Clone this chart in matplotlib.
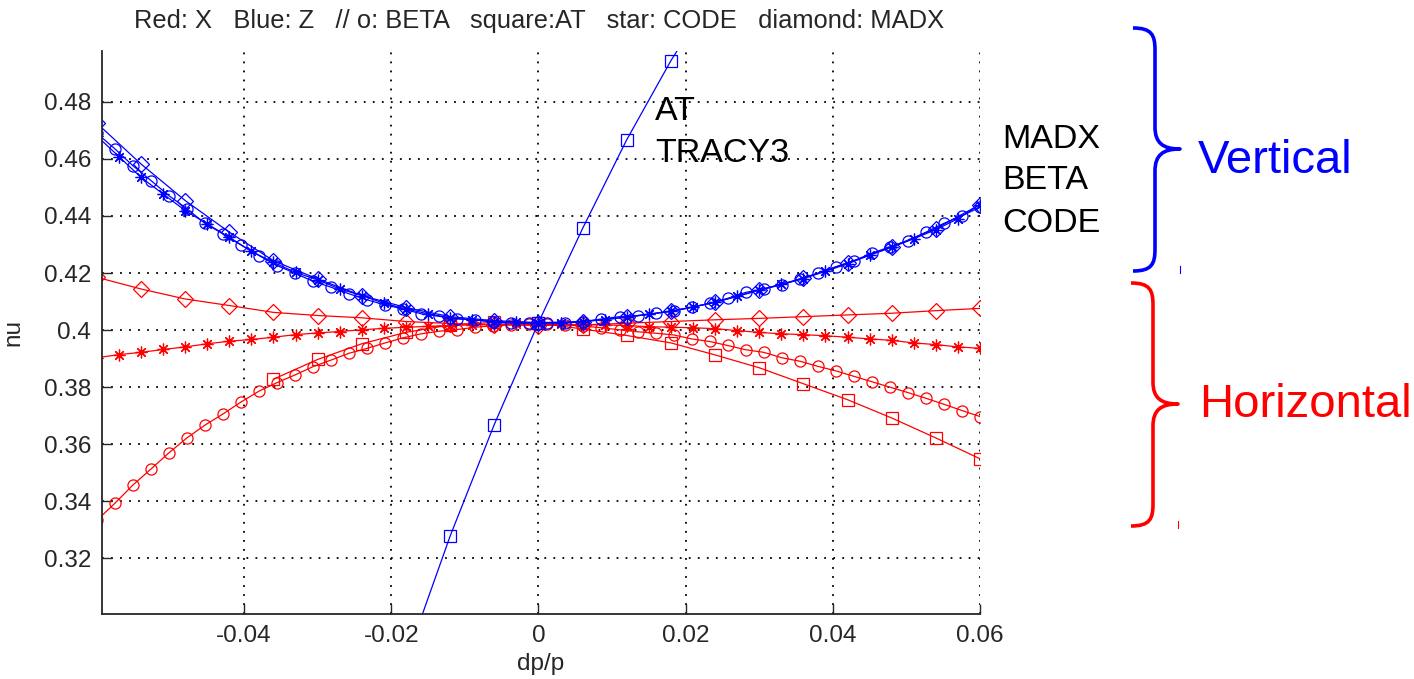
import numpy as np
import matplotlib
matplotlib.use("Agg")
import matplotlib.pyplot as plt
from matplotlib.path import Path
from matplotlib.patches import PathPatch
from matplotlib.transforms import Affine2D
from matplotlib.lines import Line2D

plt.rcParams['font.family'] = ['Liberation Sans', 'DejaVu Sans']

# ---------------- data ----------------
# BETA (circles): 50 points from -0.06 to 0.06
dp_beta = [-0.06000, -0.05755, -0.05510, -0.05265, -0.05020, -0.04776, -0.04531, -0.04286,
           -0.04041, -0.03796, -0.03551, -0.03306, -0.03061, -0.02816, -0.02571, -0.02327,
           -0.02082, -0.01837, -0.01592, -0.01347, -0.01102, -0.00857, -0.00612, -0.00367,
           -0.00122, 0.00122, 0.00367, 0.00612, 0.00857, 0.01102, 0.01347, 0.01592,
           0.01837, 0.02082, 0.02327, 0.02571, 0.02816, 0.03061, 0.03306, 0.03551,
           0.03796, 0.04041, 0.04286, 0.04531, 0.04776, 0.05020, 0.05265, 0.05510,
           0.05755, 0.06000]
beta_x = [0.3333, 0.3393, 0.3457, 0.3513, 0.3570, 0.3622, 0.3667, 0.3706, 0.3748, 0.3786,
          0.3816, 0.3843, 0.3872, 0.3895, 0.3919, 0.3936, 0.3955, 0.3973, 0.3987, 0.3996,
          0.4002, 0.4010, 0.4015, 0.4019, 0.4021, 0.4021, 0.4018, 0.4014, 0.4008, 0.4001,
          0.3994, 0.3989, 0.3983, 0.3969, 0.3960, 0.3946, 0.3931, 0.3922, 0.3903, 0.3891,
          0.3873, 0.3857, 0.3838, 0.3819, 0.3800, 0.3781, 0.3761, 0.3740, 0.3718, 0.3697]
beta_z = [0.4690, 0.4635, 0.4576, 0.4524, 0.4471, 0.4425, 0.4374, 0.4337, 0.4298, 0.4261,
          0.4226, 0.4199, 0.4171, 0.4150, 0.4127, 0.4106, 0.4088, 0.4074, 0.4057, 0.4048,
          0.4039, 0.4036, 0.4027, 0.4024, 0.4024, 0.4024, 0.4024, 0.4030, 0.4039, 0.4047,
          0.4051, 0.4059, 0.4068, 0.4080, 0.4094, 0.4111, 0.4132, 0.4144, 0.4159, 0.4179,
          0.4199, 0.4222, 0.4243, 0.4269, 0.4292, 0.4313, 0.4343, 0.4374, 0.4401, 0.4430]

# CODE (stars): step 0.003
dp_code = [-0.060, -0.057, -0.054, -0.051, -0.048, -0.045, -0.042, -0.039, -0.036, -0.033,
           -0.030, -0.027, -0.024, -0.021, -0.018, -0.015, -0.012, -0.009, -0.006, -0.003,
           0.000, 0.003, 0.006, 0.009, 0.012, 0.015, 0.018, 0.021, 0.024, 0.027,
           0.030, 0.033, 0.036, 0.039, 0.042, 0.045, 0.048, 0.051, 0.054, 0.057, 0.060]
code_x = [0.3903, 0.3914, 0.3922, 0.3932, 0.3941, 0.3952, 0.3961, 0.3967, 0.3975, 0.3984,
          0.3990, 0.3995, 0.4001, 0.4006, 0.4010, 0.4013, 0.4016, 0.4018, 0.4019, 0.4020,
          0.4020, 0.4020, 0.4019, 0.4018, 0.4016, 0.4012, 0.4010, 0.4008, 0.4005, 0.3998,
          0.3992, 0.3987, 0.3984, 0.3980, 0.3975, 0.3969, 0.3964, 0.3955, 0.3949, 0.3941, 0.3936]
code_z = [0.4680, 0.4608, 0.4535, 0.4477, 0.4419, 0.4372, 0.4325, 0.4276, 0.4237, 0.4202,
          0.4176, 0.4144, 0.4121, 0.4094, 0.4074, 0.4057, 0.4043, 0.4036, 0.4030, 0.4027,
          0.4026, 0.4026, 0.4030, 0.4036, 0.4046, 0.4055, 0.4066, 0.4080, 0.4098, 0.4118,
          0.4140, 0.4160, 0.4180, 0.4206, 0.4232, 0.4262, 0.4290, 0.4320, 0.4352, 0.4390, 0.4440]

# MADX (diamonds): step 0.006
dp_madx = [-0.060, -0.054, -0.048, -0.042, -0.036, -0.030, -0.024, -0.018, -0.012, -0.006, 0.000,
           0.006, 0.012, 0.018, 0.024, 0.030, 0.036, 0.042, 0.048, 0.054, 0.060]
madx_x = [0.4185, 0.4144, 0.4109, 0.4086, 0.4062, 0.4051, 0.4043, 0.4030, 0.4023, 0.4019, 0.4016,
          0.4018, 0.4024, 0.4030, 0.4036, 0.4041, 0.4047, 0.4053, 0.4059, 0.4068, 0.4076]
madx_z = [0.4725, 0.4582, 0.4454, 0.4343, 0.4243, 0.4179, 0.4121, 0.4079, 0.4047, 0.4033, 0.4026,
          0.4030, 0.4045, 0.4066, 0.4097, 0.4140, 0.4182, 0.4235, 0.4292, 0.4355, 0.4440]

# AT (squares)
dp_at_x = [-0.036, -0.030, -0.024, -0.018, -0.012, -0.006, 0.000, 0.006, 0.012,
           0.018, 0.024, 0.030, 0.036, 0.042, 0.048, 0.054, 0.060]
at_x = [0.3828, 0.3897, 0.3952, 0.3992, 0.4018, 0.4027, 0.4024, 0.4004, 0.3981,
        0.3955, 0.3913, 0.3868, 0.3812, 0.3756, 0.3692, 0.3622, 0.3549]
dp_at_z = [-0.018, -0.012, -0.006, 0.000, 0.006, 0.012, 0.018, 0.024]
at_z = [0.2842, 0.3278, 0.3669, 0.4026, 0.4356, 0.4667, 0.4944, 0.5190]

xticks = [-0.04, -0.02, 0, 0.02, 0.04, 0.06]
xticklabels = ['-0.04', '-0.02', '0', '0.02', '0.04', '0.06']
yticks = [0.32, 0.34, 0.36, 0.38, 0.40, 0.42, 0.44, 0.46, 0.48]
yticklabels = ['0.32', '0.34', '0.36', '0.38', '0.4', '0.42', '0.44', '0.46', '0.48']

title = "Red: X   Blue: Z   // o: BETA   square:AT   star: CODE   diamond: MADX"

# ---------------- figure ----------------
W, H = 1414, 679
fig = plt.figure(figsize=(W / 100, H / 100), dpi=100)
ax = fig.add_axes([102 / W, 1 - 614.3 / H, (980 - 102) / W, (614.3 - 50.7) / H])

RED = '#ff0000'
BLUE = '#0000ff'
TXT = '#262626'
lw = 0.9
common = dict(linewidth=lw, markerfacecolor='none', markeredgewidth=0.9, clip_on=True)
star = (8, 2, 0)

# Horizontal (red)
ax.plot(dp_madx, madx_x, color=RED, marker='D', markersize=7.8, markeredgecolor=RED, **common)
ax.plot(dp_code, code_x, color=RED, marker=star, markersize=8.5, markeredgecolor=RED, **common)
ax.plot(dp_beta, beta_x, color=RED, marker='o', markersize=8, markeredgecolor=RED, **common)
ax.plot(dp_at_x, at_x, color=RED, marker='s', markersize=8.5, markeredgecolor=RED, **common)
# Vertical (blue)
ax.plot(dp_madx, madx_z, color=BLUE, marker='D', markersize=7.8, markeredgecolor=BLUE, **common)
ax.plot(dp_beta, beta_z, color=BLUE, marker='o', markersize=8, markeredgecolor=BLUE, **common)
ax.plot(dp_code, code_z, color=BLUE, marker=star, markersize=8.5, markeredgecolor=BLUE, **common)
ax.plot(dp_at_z, at_z, color=BLUE, marker='s', markersize=8.5, markeredgecolor=BLUE, **common)

ax.set_xlim(-0.0593, 0.06)
ax.set_ylim(0.3004, 0.4979)
ax.set_xticks(xticks)
ax.set_xticklabels(xticklabels)
ax.set_yticks(yticks)
ax.set_yticklabels(yticklabels)
ax.tick_params(direction='in', length=7, width=1, labelsize=17.5, colors=TXT, pad=8)
ax.grid(True, color='black', linestyle=(0, (1, 4)), linewidth=1.3)
for s in ['top', 'right']:
    ax.spines[s].set_visible(False)
for s in ['left', 'bottom']:
    ax.spines[s].set_linewidth(1.3)
    ax.spines[s].set_color(TXT)

ax.set_xlabel('dp/p', fontsize=17.5, color=TXT, labelpad=4)
ax.set_ylabel('nu', fontsize=17.5, color=TXT, labelpad=14)

# ---------------- annotations in pixel coordinates ----------------
pix = Affine2D().scale(1 / W, -1 / H).translate(0, 1) + fig.transFigure

def ptext(x, y, s, size, color='black', ha='left'):
    fig.text(x, y, s, fontsize=size, color=color, ha=ha, va='baseline', transform=pix)

ptext(539, 28, title, 18.4, color=TXT, ha='center')

ptext(655, 119.5, 'AT', 24.5)
ptext(655, 161.7, 'TRACY3', 24.5)
ptext(1002, 147.7, 'MADX', 24.5)
ptext(1002, 189.3, 'BETA', 24.5)
ptext(1002, 231.7, 'CODE', 24.5)
ptext(1198, 172.7, 'Vertical', 34, color=BLUE)
ptext(1199, 416.7, 'Horizontal', 34, color=RED)

def brace(x0, y0, y1, xv, xt, yt, color):
    r = 22
    verts = [
        (x0, y0),
        (x0 + (xv - x0) * 0.85, y0), (xv, y0 + 7), (xv, y0 + r),
        (xv, yt - r),
        (xv, yt - 6), (xv + 8, yt), (xt, yt),
        (xv + 8, yt), (xv, yt + 6), (xv, yt + r),
        (xv, y1 - r),
        (xv, y1 - 7), (x0 + (xv - x0) * 0.85, y1), (x0, y1),
    ]
    codes = [Path.MOVETO,
             Path.CURVE4, Path.CURVE4, Path.CURVE4,
             Path.LINETO,
             Path.CURVE4, Path.CURVE4, Path.CURVE4,
             Path.CURVE4, Path.CURVE4, Path.CURVE4,
             Path.LINETO,
             Path.CURVE4, Path.CURVE4, Path.CURVE4]
    patch = PathPatch(Path(verts, codes), facecolor='none', edgecolor=color,
                      linewidth=2.6, transform=pix, capstyle='butt', joinstyle='round')
    fig.add_artist(patch)

brace(1133, 28, 271, 1155, 1180, 149, BLUE)
brace(1131, 283, 526, 1153, 1178, 404, RED)

# tiny marks near brace ends
fig.add_artist(Line2D([1179.5, 1179.5], [266, 273], color=BLUE, linewidth=0.8, transform=pix))
fig.add_artist(Line2D([1177.5, 1177.5], [521, 528], color=RED, linewidth=0.8, transform=pix))

fig.savefig('out.png', dpi=100)
